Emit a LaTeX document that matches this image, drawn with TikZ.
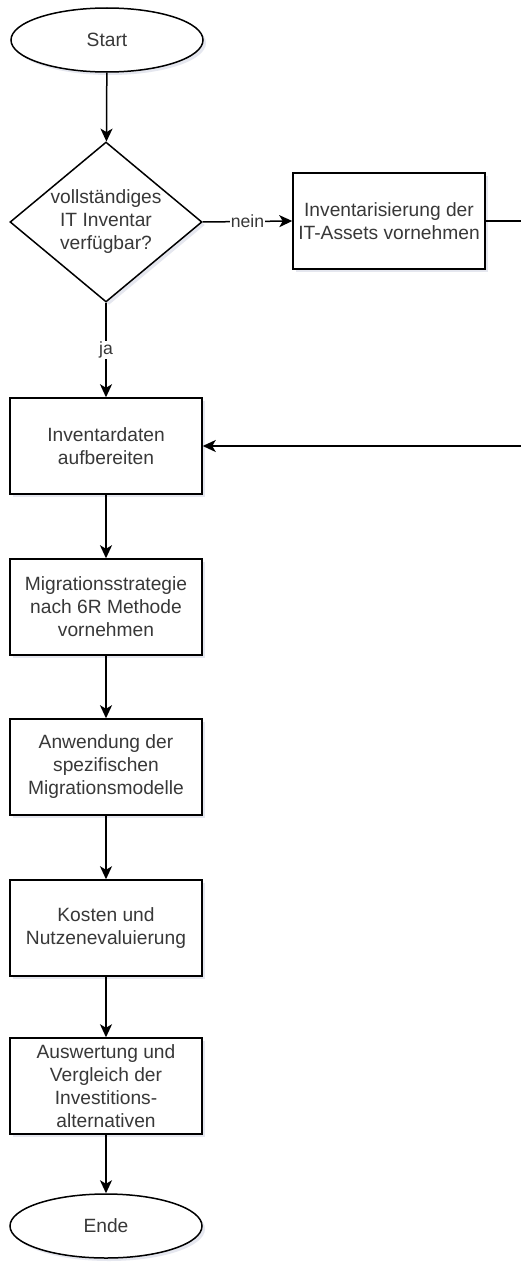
\documentclass[tikz,border=0pt]{standalone}
\usepackage{fontspec}
\setmainfont{Liberation Sans}
\usetikzlibrary{shapes.geometric,arrows.meta,shadows}

\definecolor{txt}{rgb}{0.22,0.22,0.22}
\definecolor{shade}{rgb}{0.55,0.58,0.72}

\tikzset{
  every node/.style={text=txt},
  mainfont/.style={font=\fontsize{19.2}{23}\selectfont},
  soft/.style={drop shadow={shadow xshift=3pt,shadow yshift=-3pt,opacity=0.22,fill=shade}},
  procbox/.style={draw=black,line width=1.5pt,fill=white,rectangle,
    minimum width=192pt,minimum height=96pt,inner sep=0pt,align=center,mainfont,soft},
  terminal/.style={draw=black,line width=1.5pt,fill=white,ellipse,
    minimum width=192pt,minimum height=64pt,inner sep=0pt,mainfont,soft},
  decision/.style={draw=black,line width=1.5pt,fill=white,diamond,
    minimum width=192pt,minimum height=160pt,inner sep=0pt,soft},
  flow/.style={draw=black,line width=1.5pt,-{Stealth[length=13pt,width=12pt,inset=3.5pt]}},
  edgelabel/.style={fill=white,inner sep=1pt,font=\fontsize{17.6}{21}\selectfont}
}

\begin{document}
\begin{tikzpicture}[x=1pt,y=-1pt]
  \clip (0,0) rectangle (521,1263);
  \fill[white] (0,0) rectangle (521,1263);

  % process steps
  \node[terminal] (start) at (107,40) {Start};
  \node[decision] (dec) at (106,222) {};
  \node[align=center,mainfont,inner sep=0pt] (dectext) at (dec.center)
    {vollständiges\\IT Inventar\\verfügbar?};
  \node[procbox] (inv) at (389,221) {Inventarisierung der\\IT-Assets vornehmen};
  \node[procbox] (daten) at (106,446) {Inventardaten\\aufbereiten};
  \node[procbox] (strat) at (106,607) {Migrationsstrategie\\nach 6R Methode\\vornehmen};
  \node[procbox] (anw) at (106,767) {Anwendung der\\spezifischen\\Migrationsmodelle};
  \node[procbox] (kost) at (106,928) {Kosten und\\Nutzenevaluierung};
  \node[procbox] (ausw) at (106,1086) {Auswertung und\\Vergleich der\\Investitions-\\alternativen};
  \node[terminal] (ende) at (106,1226) {Ende};

  % return path on the right side
  \coordinate (rtop) at (532,221);

  % connectors
  \draw[flow] (start) -- (dec);
  \draw[flow] (dec.east) -- node[edgelabel] (nein) {nein} (inv.west);
  \draw[flow] (dec.south) -- node[edgelabel] (ja) {ja} (daten.north);
  \draw[flow] (inv.east) -- (rtop) |- (daten.east);
  \draw[flow] (daten) -- (strat);
  \draw[flow] (strat) -- (anw);
  \draw[flow] (anw) -- (kost);
  \draw[flow] (kost) -- (ausw);
  \draw[flow] (ausw) -- (ende);
\end{tikzpicture}
\end{document}
